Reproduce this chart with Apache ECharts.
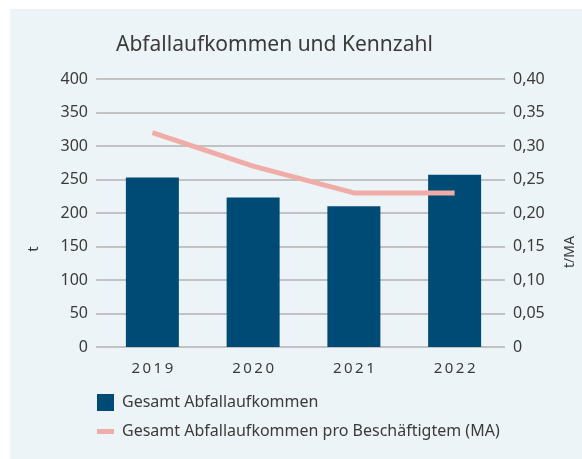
<!DOCTYPE html>
<html>
<head>
<meta charset="utf-8">
<script src="https://cdn.jsdelivr.net/npm/echarts@6/dist/echarts.min.js"></script>
<style>
html,body{margin:0;padding:0;background:#ffffff;}
#panel{position:absolute;left:10px;top:9px;width:572px;height:450px;background:#edf4f8;}
#chart{position:absolute;left:0;top:0;width:582px;height:459px;}
</style>
</head>
<body>
<div id="panel"></div>
<div id="chart"></div>
<script>
var categories = ['2019', '2020', '2021', '2022'];
var totalWaste = [253, 223, 210, 257];
var wastePerEmployee = [0.32, 0.27, 0.23, 0.23];
var leftTicks = [0, 50, 100, 150, 200, 250, 300, 350, 400];
var rightTicks = [0, 0.05, 0.10, 0.15, 0.20, 0.25, 0.30, 0.35, 0.40];
var titleText = 'Abfallaufkommen und Kennzahl';
var leftAxisName = 't';
var rightAxisName = 't/MA';
var seriesNames = ['Gesamt Abfallaufkommen', 'Gesamt Abfallaufkommen pro Beschäftigtem (MA)'];

var FONT = 'Noto Sans';
var TXT = '#3a3a3a';
var chart = echarts.init(document.getElementById('chart'), null, {renderer: 'canvas'});
chart.setOption({
  backgroundColor: 'transparent',
  animation: false,
  textStyle: {fontFamily: FONT, color: TXT},
  title: {
    text: titleText, left: 116, top: 35, padding: 0,
    textStyle: {fontFamily: FONT, fontSize: 21, fontWeight: 'normal', color: TXT}
  },
  legend: {
    orient: 'vertical', left: 97, top: 394, padding: 0,
    itemWidth: 17, itemHeight: 17, itemGap: 12,
    textStyle: {fontFamily: FONT, fontSize: 16, lineHeight: 17, color: TXT, padding: [0, 0, 0, 3]},
    data: [
      {name: seriesNames[0], icon: 'rect'},
      {name: seriesNames[1], icon: 'path://M0,0h17v5h-17z'}
    ]
  },
  grid: {left: 102, right: 77, top: 79, bottom: 112, containLabel: false},
  xAxis: {
    type: 'category', data: categories,
    axisLine: {show: false}, axisTick: {show: false},
    axisLabel: {
      margin: 14, fontSize: 15, color: TXT, fontFamily: FONT,
      formatter: function (v) { return v.split('').join('\u2009'); }
    }
  },
  yAxis: [
    {
      type: 'value', min: leftTicks[0], max: leftTicks[leftTicks.length - 1], interval: 50,
      axisLine: {show: false},
      axisTick: {show: true, length: 6, lineStyle: {color: '#b2b2b2', width: 1.5}},
      splitLine: {lineStyle: {color: '#b2b2b2', width: 1.5}},
      axisLabel: {margin: 14, fontSize: 16, color: TXT, fontFamily: FONT}
    },
    {
      type: 'value', min: rightTicks[0], max: rightTicks[rightTicks.length - 1], interval: 0.05,
      axisLine: {show: false}, axisTick: {show: false},
      splitLine: {show: false},
      axisLabel: {
        margin: 8, fontSize: 16, color: TXT, fontFamily: FONT,
        formatter: function (v) { return v === 0 ? '0' : v.toFixed(2).replace('.', ','); }
      }
    }
  ],
  graphic: [
    {type: 'text', x: 34, y: 249, rotation: Math.PI / 2,
     style: {text: leftAxisName, fontFamily: FONT, fontSize: 15, fill: TXT, align: 'center', verticalAlign: 'middle'}},
    {type: 'text', x: 570, y: 252, rotation: Math.PI / 2,
     style: {text: rightAxisName, fontFamily: FONT, fontSize: 14, fill: TXT, align: 'center', verticalAlign: 'middle'}}
  ],
  series: [
    {
      name: seriesNames[0], type: 'bar', data: totalWaste, yAxisIndex: 0,
      barWidth: 53, itemStyle: {color: '#004b76'}
    },
    {
      name: seriesNames[1], type: 'line', data: wastePerEmployee, yAxisIndex: 1,
      showSymbol: false, symbol: 'none',
      lineStyle: {color: '#f0aca6', width: 5}, itemStyle: {color: '#f0aca6'}
    }
  ]
});
</script>
</body>
</html>
